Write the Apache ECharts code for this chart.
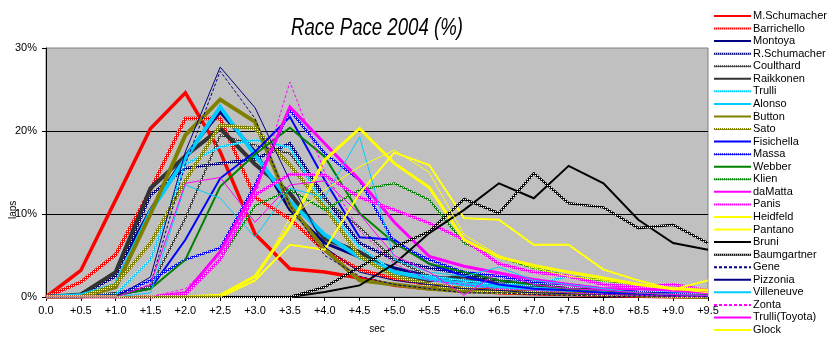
<!DOCTYPE html>
<html>
<head>
<meta charset="utf-8">
<script src="https://cdn.jsdelivr.net/npm/echarts@6/dist/echarts.min.js"></script>
<style>
  html, body { margin: 0; padding: 0; background: #fff; }
  #chart { width: 829px; height: 342px; }
</style>
</head>
<body>
<div id="chart"></div>
<script>
// Gap to the fastest lap, in seconds (category axis ticks)
const gapLabels = ['0.0', '+0.5', '+1.0', '+1.5', '+2.0', '+2.5', '+3.0', '+3.5', '+4.0', '+4.5',
                   '+5.0', '+5.5', '+6.0', '+6.5', '+7.0', '+7.5', '+8.0', '+8.5', '+9.0', '+9.5'];

// Share of each driver's laps (%) falling in each gap bucket
const mSchumacher  = [0, 3.2, 11.7, 20.3, 24.6, 17.5, 7.6, 3.4, 3.0, 2.3, 1.4, 1.0, 0.8, 0.5, 0.4, 0.3, 0.2, 0.1, 0, 0];
const barrichello  = [0, 1.8, 5.1, 12.9, 21.5, 21.5, 12.0, 9.4, 5.6, 3.3, 2.2, 1.5, 1.0, 0.8, 0.6, 0.5, 0.3, 0.2, 0.1, 0];
const montoya      = [0, 0.3, 2.9, 10.5, 17.0, 22.3, 17.5, 10.5, 6.5, 4.8, 3.5, 2.5, 2.0, 1.5, 1.0, 0.8, 0.5, 0.4, 0.3, 0.2];
const rSchumacher  = [0, 0.2, 2.5, 12.3, 15.5, 16.1, 16.6, 18.5, 12.0, 6.5, 4.5, 3.5, 2.8, 2.0, 1.5, 1.0, 0.8, 0.5, 0.4, 0.2];
const coulthard    = [0, 0, 0.5, 1.2, 9.5, 19.5, 18.3, 17.3, 11.7, 8.4, 4.5, 2.5, 2.0, 1.5, 1.2, 1.0, 0.8, 0.5, 0.3, 0.2];
const raikkonen    = [0, 0.3, 3.0, 13.1, 17.0, 20.3, 16.0, 12.5, 7.0, 5.4, 3.0, 2.0, 2.5, 1.5, 1.0, 0.8, 0.5, 0.3, 0.2, 0.1];
const trulli       = [0, 0, 0.3, 4.5, 16.0, 18.1, 18.9, 18.0, 11.0, 6.0, 3.0, 2.5, 2.0, 1.5, 1.5, 2.5, 1.5, 1.0, 0.5, 0.3];
const alonso       = [0, 0.2, 1.5, 10.3, 16.7, 22.9, 17.1, 11.5, 7.5, 4.8, 3.0, 2.2, 1.5, 1.2, 1.0, 0.8, 0.5, 0.3, 0.2, 0.1];
const button       = [0, 0, 1.2, 10.0, 19.5, 23.8, 21.1, 11.0, 5.7, 2.0, 1.5, 1.0, 0.7, 0.6, 0.5, 0.4, 0.3, 0.2, 0.1, 0];
const sato         = [0, 0, 1.5, 6.5, 14.0, 20.7, 20.3, 15.9, 10.8, 4.9, 2.5, 1.5, 1.0, 0.6, 0.5, 0.4, 0.3, 0.2, 0.1, 0];
const fisichella   = [0, 0, 0.2, 1.0, 6.9, 14.3, 17.5, 21.7, 14.1, 7.2, 6.9, 4.0, 2.5, 1.5, 1.0, 0.8, 0.5, 0.4, 0.2, 0.1];
const massa        = [0, 0, 0.2, 2.0, 4.5, 5.9, 13.5, 22.5, 17.3, 14.1, 6.5, 4.5, 3.0, 2.5, 1.8, 1.5, 1.0, 0.6, 0.4, 0.2];
const webber       = [0, 0, 0.2, 1.0, 4.5, 13.3, 17.2, 20.4, 16.9, 10.1, 6.5, 4.0, 3.0, 2.0, 1.5, 1.0, 0.8, 0.5, 0.3, 0.2];
const klien        = [0, 0, 0, 0, 0.5, 4.5, 11.0, 12.9, 10.5, 12.9, 13.7, 11.7, 6.5, 4.8, 3.5, 2.5, 2.0, 1.5, 1.0, 0.8];
const daMatta      = [0, 0, 0, 0, 0.5, 5.5, 13.0, 22.9, 18.5, 14.1, 9.0, 4.9, 3.7, 2.9, 2.1, 1.5, 1.0, 1.0, 0.8, 0.5];
const panis        = [0, 0, 0, 0, 0.3, 4.5, 12.3, 14.8, 14.7, 12.0, 10.5, 8.9, 6.9, 4.0, 3.0, 2.5, 1.5, 1.2, 1.5, 0.8];
const heidfeld     = [0, 0, 0, 0, 0, 0.2, 2.5, 8.5, 16.5, 20.3, 16.1, 13.2, 6.9, 4.8, 3.8, 3.0, 2.3, 1.5, 1.0, 0.8];
const pantano      = [0, 0, 0, 0, 0, 0, 2.0, 6.3, 5.7, 12.5, 17.4, 15.9, 9.5, 9.3, 6.3, 6.3, 3.3, 2.0, 0.9, 2.0];
const bruni        = [0, 0, 0, 0, 0, 0, 0, 0, 0.6, 1.4, 4.0, 7.7, 10.5, 13.7, 11.9, 15.8, 13.7, 9.3, 6.5, 5.7];
const baumgartner  = [0, 0, 0, 0, 0, 0, 0, 0, 1.2, 3.6, 6.0, 7.9, 11.8, 10.1, 14.9, 11.3, 10.8, 8.3, 8.7, 6.5];
const gene         = [0, 0, 0, 1.5, 16.0, 27.2, 21.5, 11.0, 5.0, 2.5, 1.5, 1.0, 0.5, 0.5, 0.3, 0.2, 0.1, 0, 0, 0];
const pizzonia     = [0, 0, 0, 2.4, 17.5, 27.7, 22.8, 14.0, 6.0, 3.0, 2.0, 1.5, 1.0, 0.8, 0.5, 0.4, 0.3, 0.2, 0.1, 0.1];
const villeneuve   = [0, 0, 0, 0.5, 13.5, 11.9, 7.2, 13.1, 12.0, 19.3, 4.5, 3.0, 2.5, 3.6, 2.0, 1.5, 1.0, 0.5, 0.3, 0.2];
const zonta        = [0, 0, 0, 0, 1.0, 5.0, 12.0, 25.9, 15.0, 8.0, 4.0, 2.0, 1.5, 1.0, 0.8, 0.5, 0.3, 0.2, 0.1, 0];
const trulliToyota = [0, 0, 0, 1.5, 13.7, 14.4, 9.0, 13.5, 14.0, 10.0, 5.0, 3.0, 0.2, 3.0, 1.5, 1.0, 0.8, 0.5, 0.3, 0.2];
const glock        = [0, 0, 0, 0, 0, 0, 2.0, 9.5, 12.9, 15.7, 17.7, 15.0, 7.5, 5.0, 3.5, 2.5, 2.0, 1.5, 1.0, 0.5];

// Small two-by-two stipple used for the "dotted" heavy lines
function stipple(color) {
  const c = document.createElement('canvas');
  c.width = 2; c.height = 2;
  const g = c.getContext('2d');
  g.fillStyle = color; g.fillRect(0, 0, 2, 2);
  g.fillStyle = '#ffffff'; g.fillRect(1, 1, 1, 1);
  return { image: c, repeat: 'repeat' };
}

// name, values, colour, width, stroke kind ('solid' | 'stipple' | 'dashed')
const driverStyles = [
  ['M.Schumacher',   mSchumacher,  '#ff0000', 3.5, 'solid'],
  ['Barrichello',    barrichello,  '#ff0000', 3.5, 'stipple'],
  ['Montoya',        montoya,      '#000080', 3,   'solid'],
  ['R.Schumacher',   rSchumacher,  '#000080', 3,   'stipple'],
  ['Coulthard',      coulthard,    '#333333', 2,   'stipple'],
  ['Raikkonen',      raikkonen,    '#333333', 4,   'solid'],
  ['Trulli',         trulli,       '#00ccff', 2,   'stipple'],
  ['Alonso',         alonso,       '#00ccff', 4,   'solid'],
  ['Button',         button,       '#808000', 4,   'solid'],
  ['Sato',           sato,         '#808000', 3.5, 'stipple'],
  ['Fisichella',     fisichella,   '#0000ff', 2,   'solid'],
  ['Massa',          massa,        '#0000ff', 2.5, 'stipple'],
  ['Webber',         webber,       '#008000', 2,   'solid'],
  ['Klien',          klien,        '#008000', 2,   'stipple'],
  ['daMatta',        daMatta,      '#ff00ff', 3,   'solid'],
  ['Panis',          panis,        '#ff00ff', 3,   'stipple'],
  ['Heidfeld',       heidfeld,     '#ffff00', 3,   'solid'],
  ['Pantano',        pantano,      '#ffff00', 2,   'stipple'],
  ['Bruni',          bruni,        '#000000', 2,   'solid'],
  ['Baumgartner',    baumgartner,  '#000000', 2.5, 'stipple'],
  ['Gene',           gene,         '#000080', 1,   'dashed'],
  ['Pizzonia',       pizzonia,     '#000080', 1,   'solid'],
  ['Villeneuve',     villeneuve,   '#00ccff', 1,   'solid'],
  ['Zonta',          zonta,        '#ff00ff', 1,   'dashed'],
  ['Trulli(Toyota)', trulliToyota, '#ff00ff', 1,   'solid'],
  ['Glock',          glock,        '#ffff00', 1,   'solid']
];

const FONT = 'Liberation Sans';

const series = driverStyles.map(([name, values, color, width, kind]) => ({
  name: name,
  type: 'line',
  data: values,
  color: color,
  symbol: 'none',
  smooth: false,
  silent: true,
  lineStyle: {
    color: kind === 'stipple' ? stipple(color) : color,
    width: width,
    type: kind === 'dashed' ? [3, 2] : 'solid',
    cap: 'butt',
    join: 'miter'
  },
  emphasis: { disabled: true }
}));

const chart = echarts.init(document.getElementById('chart'), null, { renderer: 'canvas' });
chart.setOption({
  animation: false,
  backgroundColor: '#ffffff',
  textStyle: { fontFamily: FONT },
  grid: {
    left: 46, right: 121, top: 48, bottom: 45,
    show: true,
    backgroundColor: '#c0c0c0',
    borderColor: '#808080',
    borderWidth: 1
  },
  legend: {
    orient: 'vertical',
    left: 713,
    top: 10,
    itemWidth: 37,
    itemHeight: 8,
    itemGap: 0.56,
    padding: 0,
    selectedMode: false,
    itemStyle: { opacity: 0, borderWidth: 0 },
    textStyle: { color: '#000', fontSize: 11, fontFamily: FONT, lineHeight: 12, padding: [0, 0, 0, -3] },
    data: driverStyles.map(d => d[0])
  },
  xAxis: {
    type: 'category',
    data: gapLabels,
    boundaryGap: false,
    name: 'sec',
    nameLocation: 'middle',
    nameGap: 27,
    nameTextStyle: { color: '#000', fontSize: 10, fontFamily: FONT },
    axisLine: { lineStyle: { color: '#000', width: 1 } },
    axisTick: { show: true, inside: false, length: 4, alignWithLabel: true, lineStyle: { color: '#000' } },
    axisLabel: { color: '#000', fontSize: 11, fontFamily: FONT, margin: 8, interval: 0 },
    splitLine: { show: false }
  },
  yAxis: {
    type: 'value',
    min: 0, max: 30, interval: 10,
    axisLine: { show: true, lineStyle: { color: '#000', width: 1 } },
    axisTick: { show: true, inside: false, length: 4, lineStyle: { color: '#000' } },
    axisLabel: { color: '#000', fontSize: 11, fontFamily: FONT, margin: 9, formatter: '{value}%' },
    splitLine: { show: true, showMinLine: false, showMaxLine: false, lineStyle: { color: '#000', width: 1 } }
  },
  graphic: [
    {
      type: 'text',
      x: 377, y: 29,
      scaleX: 0.81,
      style: {
        text: 'Race Pace 2004 (%)',
        font: 'italic 23px "' + FONT + '"',
        fill: '#000',
        align: 'center',
        verticalAlign: 'middle'
      }
    },
    {
      type: 'text',
      x: 8, y: 219,
      rotation: Math.PI / 2,
      style: {
        text: 'laps',
        font: '10px "' + FONT + '"',
        fill: '#000'
      }
    }
  ],
  series: series
});
</script>
</body>
</html>
